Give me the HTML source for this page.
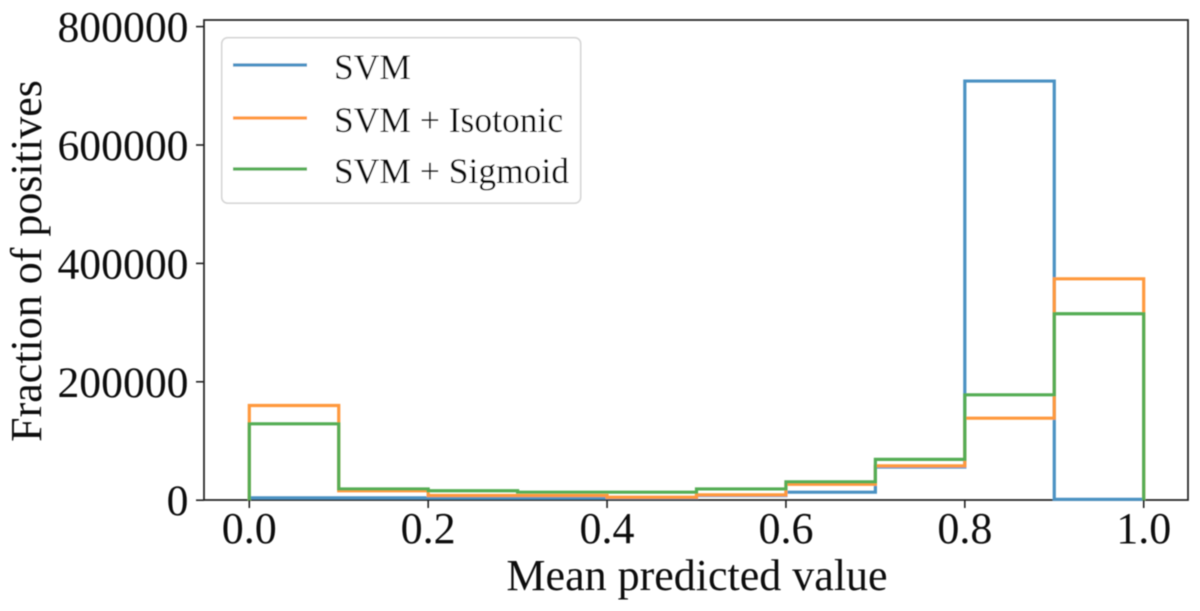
<!DOCTYPE html>
<html lang="en">
<head>
<meta charset="utf-8">
<title>Histogram of predicted values</title>
<style>
html,body{margin:0;padding:0;background:#fff;width:1200px;height:611px;overflow:hidden}
svg{display:block;font-family:"Liberation Serif","Times New Roman",serif;fill:#111}
</style>
</head>
<body>
<svg id="chart" width="1200" height="611" viewBox="0 0 1200 611" xmlns="http://www.w3.org/2000/svg">
<defs><filter id="soft" x="-5%" y="-5%" width="110%" height="110%"><feGaussianBlur stdDeviation="0.45"/></filter></defs>
<g id="root" filter="url(#soft)"></g>
</svg>
<script>
const binEdges = [0, 0.1, 0.2, 0.3, 0.4, 0.5, 0.6, 0.7, 0.8, 0.9, 1.0];
const svmCounts = [4000, 4000, 4000, 4000, 4000, 8000, 13500, 56000, 708000, 1500];
const isotonicCounts = [160000, 16000, 8000, 8000, 5000, 9000, 27000, 58000, 138500, 374000];
const sigmoidCounts = [129000, 19000, 16000, 13500, 13500, 19000, 31000, 69000, 178000, 315000];
const xTicks = [0, 0.2, 0.4, 0.6, 0.8, 1.0];
const yTicks = [0, 200000, 400000, 600000, 800000];
const seriesNames = ["SVM", "SVM + Isotonic", "SVM + Sigmoid"];
const seriesColors = ["#4c92c3", "#ff993e", "#55ad55"];
const xAxisLabel = "Mean predicted value";
const yAxisLabel = "Fraction of positives";

const NS = "http://www.w3.org/2000/svg";
const svg = document.getElementById("root");
const plot = {left: 204, right: 1188, top: 20, bottom: 500};

function xScale(v) { return 249.3 + v * (1143.7 - 249.3); }
function yScale(v) { return 500.2 - v * (473.6 / 800000); }
function make(tag, attrs, parent) {
  const el = document.createElementNS(NS, tag);
  for (const k in attrs) el.setAttribute(k, attrs[k]);
  (parent || svg).appendChild(el);
  return el;
}

// Axes frame
const frame = make("rect", {x: plot.left, y: plot.top, width: plot.right - plot.left, height: plot.bottom - plot.top, fill: "none", stroke: "#222", "stroke-width": 1.7});



// Histogram outlines
const allSeries = [svmCounts, isotonicCounts, sigmoidCounts];
const seriesKeys = ["svm", "svm-isotonic", "svm-sigmoid"];
allSeries.forEach(function (counts, s) {
  let d = "M" + xScale(binEdges[0]) + " " + yScale(0);
  counts.forEach(function (c, i) {
    d += " L" + xScale(binEdges[i]) + " " + yScale(c);
    d += " L" + xScale(binEdges[i + 1]) + " " + yScale(c);
  });
  d += " L" + xScale(binEdges[binEdges.length - 1]) + " " + yScale(0);
  const p = make("path", {d: d, fill: "none", stroke: seriesColors[s], "stroke-width": 3.2, "stroke-linejoin": "miter"});
  
  
});

// X ticks
xTicks.forEach(function (t) {
  const x = xScale(t);
  const tick = make("line", {x1: x, x2: x, y1: plot.bottom, y2: plot.bottom + 8, stroke: "#222", "stroke-width": 1.6});
  
  
  const label = make("text", {x: x, y: 543, "text-anchor": "middle", "font-size": 44});
  label.textContent = t.toFixed(1);
  
  
});

// Y ticks
yTicks.forEach(function (t) {
  const y = yScale(t);
  const tick = make("line", {x1: plot.left - 8, x2: plot.left, y1: y, y2: y, stroke: "#222", "stroke-width": 1.6});
  
  
  const label = make("text", {x: 188.5, y: y + 15, "text-anchor": "end", "font-size": 43.7});
  label.textContent = String(t);
  
  
});

// Axis titles
const xTitle = make("text", {x: 697, y: 590, "text-anchor": "middle", "font-size": 44});
xTitle.textContent = xAxisLabel;



const yTitle = make("text", {x: 0, y: 0, "text-anchor": "middle", "font-size": 44, transform: "translate(41 261) rotate(-90)"});
yTitle.textContent = yAxisLabel;



// Legend
const legend = make("g", {});


const legendBox = make("rect", {x: 221.7, y: 37.7, width: 359, height: 165.5, rx: 6, fill: "#fff", "fill-opacity": 0.8, stroke: "#d6d6d6", "stroke-width": 1.6}, legend);


const legendLineY = [65, 118, 169];
const legendTextY = [79, 132, 183];
seriesNames.forEach(function (name, i) {
  const swatch = make("line", {x1: 233, x2: 307, y1: legendLineY[i], y2: legendLineY[i], stroke: seriesColors[i], "stroke-width": 3.2}, legend);
  
  
  const label = make("text", {x: 334, y: legendTextY[i], "font-size": 35.5}, legend);
  label.textContent = name;
  
  
});
</script>
</body>
</html>
